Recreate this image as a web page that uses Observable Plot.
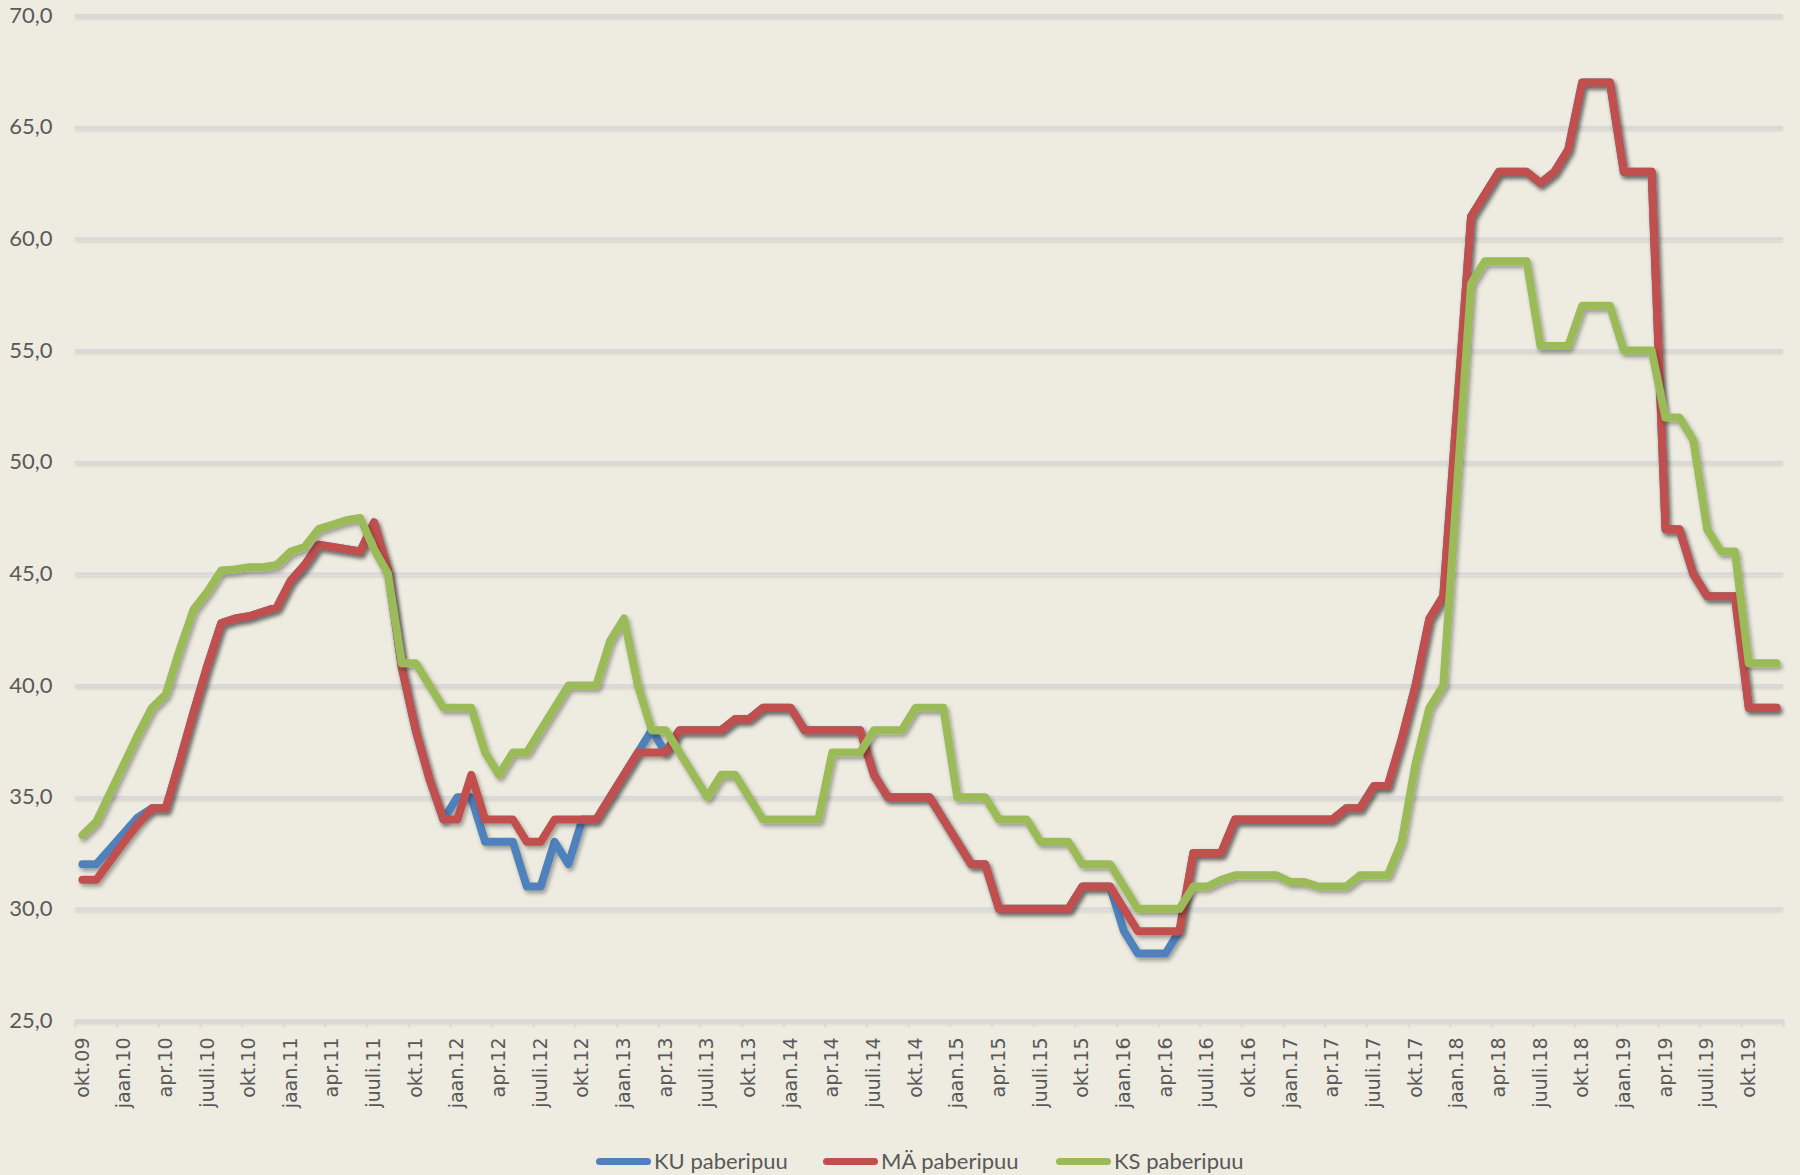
<!DOCTYPE html>
<html>
<head>
<meta charset="utf-8">
<script src="https://cdn.jsdelivr.net/npm/d3@7"></script>
<script src="https://cdn.jsdelivr.net/npm/@observablehq/plot@0.6"></script>
<style>
  html, body { margin: 0; padding: 0; background: #EEECE1; }
  #wrap { position: relative; width: 1800px; height: 1175px; background: #EEECE1; }
  #legend { position: relative; height: 36px; font-family: Lato, "Open Sans", sans-serif; font-size: 22px; color: #595959; }
  .sw { position: absolute; top: 15px; width: 55px; height: 7px; border-radius: 4px; }
  .lt { position: absolute; top: 0; line-height: 36px; white-space: nowrap; }
</style>
</head>
<body>
<div id="wrap">
  <div id="chart"></div>
  <div id="legend"></div>
</div>
<script>
// Month names (Estonian) and categories okt.09 .. dets.19
const monthNames = ["jaan","veebr","märts","apr","mai","juuni","juuli","aug","sept","okt","nov","dets"];
const startYear = 2009, startMonth = 9, nMonths = 123;
const categories = d3.range(nMonths).map(i => {
  const m = (startMonth + i) % 12;
  const y = startYear + Math.floor((startMonth + i) / 12);
  return monthNames[m] + "." + String(y % 100).padStart(2, "0");
});

// Tick labels shown on the category axis (every 3rd month)
const tickLabels = [
  "okt.09","jaan.10","apr.10","juuli.10","okt.10","jaan.11","apr.11","juuli.11",
  "okt.11","jaan.12","apr.12","juuli.12","okt.12","jaan.13","apr.13","juuli.13",
  "okt.13","jaan.14","apr.14","juuli.14","okt.14","jaan.15","apr.15","juuli.15",
  "okt.15","jaan.16","apr.16","juuli.16","okt.16","jaan.17","apr.17","juuli.17",
  "okt.17","jaan.18","apr.18","juuli.18","okt.18","jaan.19","apr.19","juuli.19","okt.19"
];

// Y ticks
const yTicks = [25, 30, 35, 40, 45, 50, 55, 60, 65, 70];

// Series values (monthly, okt.09 .. dets.19)
const KU = [
  32.0, 32.0, 32.7, 33.4, 34.1, 34.5, 34.5, 36.6, 38.8, 40.9, 42.8, 43.0,
  43.1, 43.3, 43.5, 44.7, 45.4, 46.3, 46.2, 46.1, 46.0, 47.3, 45.2, 40.8,
  38.0, 35.8, 34.0, 35.0, 35.0, 33.0, 33.0, 33.0, 31.0, 31.0, 33.0, 32.0,
  34.0, 34.0, 35.0, 36.0, 37.0, 38.0, 37.0, 38.0, 38.0, 38.0, 38.0, 38.5,
  38.5, 39.0, 39.0, 39.0, 38.0, 38.0, 38.0, 38.0, 38.0, 36.0, 35.0, 35.0,
  35.0, 35.0, 34.0, 33.0, 32.0, 32.0, 30.0, 30.0, 30.0, 30.0, 30.0, 30.0,
  31.0, 31.0, 31.0, 29.0, 28.0, 28.0, 28.0, 29.0, 32.5, 32.5, 32.5, 34.0,
  34.0, 34.0, 34.0, 34.0, 34.0, 34.0, 34.0, 34.5, 34.5, 35.5, 35.5, 37.6,
  40.0, 43.0, 44.0, 52.5, 61.0, 62.0, 63.0, 63.0, 63.0, 62.5, 63.0, 64.0,
  67.0, 67.0, 67.0, 63.0, 63.0, 63.0, 47.0, 47.0, 45.0, 44.0, 44.0, 44.0,
  39.0, 39.0, 39.0
];
const MA = [
  31.3, 31.3, 32.15, 33.0, 33.8, 34.5, 34.5, 36.6, 38.8, 40.9, 42.8, 43.0,
  43.1, 43.3, 43.5, 44.7, 45.4, 46.3, 46.2, 46.1, 46.0, 47.3, 45.2, 40.8,
  38.0, 35.8, 34.0, 34.0, 36.0, 34.0, 34.0, 34.0, 33.0, 33.0, 34.0, 34.0,
  34.0, 34.0, 35.0, 36.0, 37.0, 37.0, 37.0, 38.0, 38.0, 38.0, 38.0, 38.5,
  38.5, 39.0, 39.0, 39.0, 38.0, 38.0, 38.0, 38.0, 38.0, 36.0, 35.0, 35.0,
  35.0, 35.0, 34.0, 33.0, 32.0, 32.0, 30.0, 30.0, 30.0, 30.0, 30.0, 30.0,
  31.0, 31.0, 31.0, 30.0, 29.0, 29.0, 29.0, 29.0, 32.5, 32.5, 32.5, 34.0,
  34.0, 34.0, 34.0, 34.0, 34.0, 34.0, 34.0, 34.5, 34.5, 35.5, 35.5, 37.6,
  40.0, 43.0, 44.0, 52.5, 61.0, 62.0, 63.0, 63.0, 63.0, 62.5, 63.0, 64.0,
  67.0, 67.0, 67.0, 63.0, 63.0, 63.0, 47.0, 47.0, 45.0, 44.0, 44.0, 44.0,
  39.0, 39.0, 39.0
];
const KS = [
  33.3, 33.9, 35.2, 36.5, 37.8, 39.0, 39.6, 41.6, 43.4, 44.2, 45.15, 45.2,
  45.3, 45.3, 45.4, 46.0, 46.2, 47.0, 47.2, 47.4, 47.5, 46.1, 45.0, 41.0,
  41.0, 40.0, 39.0, 39.0, 39.0, 37.0, 36.0, 37.0, 37.0, 38.0, 39.0, 40.0,
  40.0, 40.0, 42.0, 43.0, 40.0, 38.0, 38.0, 37.0, 36.0, 35.0, 36.0, 36.0,
  35.0, 34.0, 34.0, 34.0, 34.0, 34.0, 37.0, 37.0, 37.0, 38.0, 38.0, 38.0,
  39.0, 39.0, 39.0, 35.0, 35.0, 35.0, 34.0, 34.0, 34.0, 33.0, 33.0, 33.0,
  32.0, 32.0, 32.0, 31.0, 30.0, 30.0, 30.0, 30.0, 31.0, 31.0, 31.3, 31.5,
  31.5, 31.5, 31.5, 31.2, 31.2, 31.0, 31.0, 31.0, 31.5, 31.5, 31.5, 33.0,
  36.5, 39.0, 40.0, 49.0, 58.0, 59.0, 59.0, 59.0, 59.0, 55.2, 55.2, 55.2,
  57.0, 57.0, 57.0, 55.0, 55.0, 55.0, 52.0, 52.0, 51.0, 47.0, 46.0, 46.0,
  41.0, 41.0, 41.0
];

const seriesNames = ["KU paberipuu", "MÄ paberipuu", "KS paberipuu"];
const seriesColors = ["#4F81BD", "#C0504D", "#9BBB59"];
const seriesValues = [KU, MA, KS];

const tickIndex = tickLabels.map(l => categories.indexOf(l));
const boundaries = d3.range(0, nMonths + 1, 3).map(i => i - 0.5);

const lineMarks = seriesValues.map((vals, s) =>
  Plot.lineY(vals.map((v, i) => ({i, v})), {
    x: "i", y: "v",
    stroke: seriesColors[s], strokeWidth: 8,
    strokeLinejoin: "round", strokeLinecap: "round"
  })
);

const chart = Plot.plot({
  width: 1800,
  height: 1143,
  marginLeft: 75,
  marginRight: 17,
  marginTop: 15,
  marginBottom: 123,
  style: { background: "transparent", fontFamily: "Lato, 'Open Sans', sans-serif", color: "#595959" },
  x: { type: "linear", domain: [-0.5, nMonths - 0.5] },
  y: { domain: [25, 70] },
  marks: [
    Plot.ruleY(yTicks.filter(v => v > 25), { stroke: "#d9d9d9", strokeWidth: 3 }),
    Plot.ruleY([25], { stroke: "#d9d9d9", strokeWidth: 3 }),
    Plot.axisX({ ticks: boundaries, tickFormat: () => "", tickSize: 7, stroke: "#d9d9d9", strokeWidth: 2.5, label: null }),
    Plot.axisX({ ticks: tickIndex, tickFormat: i => categories[i], tickRotate: -90, tickSize: 0, tickPadding: 17,
                 fontSize: 19, fontFamily: "DejaVu Sans", fill: "#595959", label: null }),
    Plot.axisY({ ticks: yTicks, tickFormat: d => d.toFixed(1).replace(".", ","), tickSize: 0, tickPadding: 23, fontSize: 22, fill: "#595959", label: null }),
    ...lineMarks
  ]
});

document.getElementById("chart").appendChild(chart);

// Drop shadows like the original
const svg = d3.select(chart);
const defs = svg.insert("defs", ":first-child");
const f1 = defs.append("filter").attr("id", "lineShadow").attr("filterUnits", "userSpaceOnUse")
  .attr("x", -50).attr("y", -50).attr("width", 1900).attr("height", 1250);
f1.append("feDropShadow").attr("dx", 2).attr("dy", 3).attr("stdDeviation", 2.2)
  .attr("flood-color", "#000").attr("flood-opacity", 0.35);
const f2 = defs.append("filter").attr("id", "gridShadow").attr("filterUnits", "userSpaceOnUse")
  .attr("x", -50).attr("y", -50).attr("width", 1900).attr("height", 1250);
f2.append("feDropShadow").attr("dx", 0).attr("dy", 2).attr("stdDeviation", 1.5)
  .attr("flood-color", "#000").attr("flood-opacity", 0.12);
svg.selectAll('g[aria-label="line"]').attr("filter", "url(#lineShadow)");
svg.selectAll('g[aria-label="rule"]').attr("filter", "url(#gridShadow)");

// Legend
const legendPos = [596, 823, 1056];
const legend = d3.select("#legend");
seriesNames.forEach((name, s) => {
  legend.append("div").attr("class", "sw")
    .style("left", legendPos[s] + "px").style("background", seriesColors[s]);
  legend.append("div").attr("class", "lt")
    .style("left", (legendPos[s] + 58) + "px").text(name);
});
</script>
</body>
</html>
